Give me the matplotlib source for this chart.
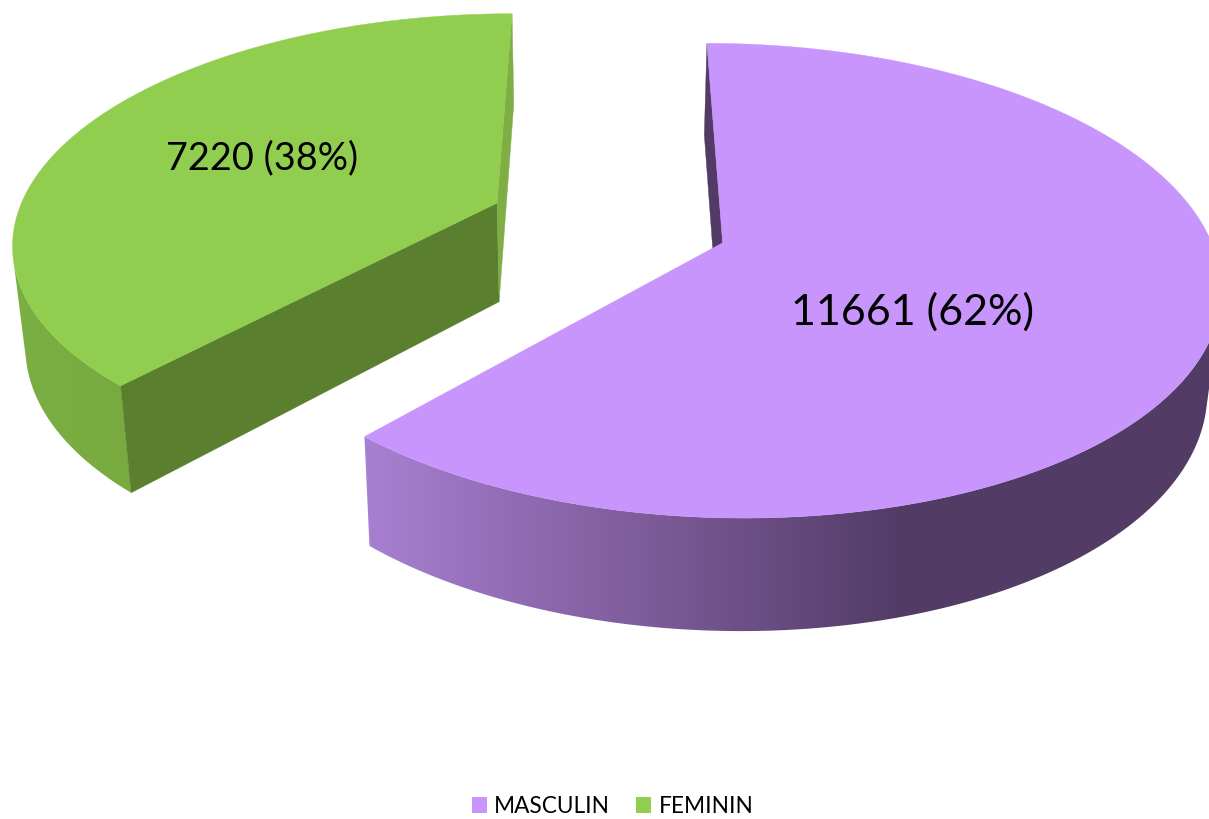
import numpy as np
import matplotlib
matplotlib.use("Agg")
import matplotlib.pyplot as plt
from matplotlib.colors import to_rgb
from matplotlib.patches import Patch, Polygon

# --- Data ---
categories = ["MASCULIN", "FEMININ"]
values = [11661, 7220]
percents = [62, 38]

# --- Perspective of the pie (pixel space) ---
VP_X, VP_Y = 608.5, -1204.0  # vanishing point of the plane
RX, RD = 0.338, 1.105e-4     # disc radius, across and in depth

plt.rcParams["font.family"] = ["Lato", "DejaVu Sans"]

fig = plt.figure(figsize=(12.09, 8.19), dpi=100)
ax = fig.add_axes([0, 0, 1, 1])


def project(x0, d0, theta):
    # theta in degrees, clockwise from the back of the pie
    t = np.radians(theta)
    s = 1 / (d0 + RD * np.cos(t))
    return np.column_stack([VP_X + (x0 + RX * np.sin(t)) * s, VP_Y + s])


def drop(pts):
    # same points on the lower face
    x = pts[:, 0] - 0.0222 * (pts[:, 0] - 590)
    y = pts[:, 1] + 90 + 0.0456 * (pts[:, 1] - 13)
    return np.column_stack([x, y])


def gradient(xs, stops, colors):
    rgb = np.array([to_rgb(c) for c in colors])
    return np.column_stack([np.interp(xs, stops, rgb[:, i]) for i in range(3)])


def draw_slice(start, end, x0, d0, top, rim_stops, rim_colors, walls):
    th = np.linspace(start, end, 600)
    rim = project(x0, d0, th)
    low = drop(rim)
    apex = np.array([[VP_X + x0 / d0, VP_Y + 1 / d0]])

    # outer wall: keep the part that faces the viewer, so the outline is a simple polygon
    step = np.gradient(rim, axis=0)
    side = low - rim
    front = step[:, 0] * side[:, 1] - step[:, 1] * side[:, 0] < 0
    outline = Polygon(np.vstack([rim[front], low[front][::-1]]), closed=True, fc="none", ec="none")
    ax.add_patch(outline)
    xs = np.linspace(0, 1209, 1209)
    img = gradient(xs, rim_stops, rim_colors)[None, :, :]
    im = ax.imshow(img, extent=(0, 1209, 819, 0), aspect="auto", interpolation="bilinear", zorder=1)
    im.set_clip_path(outline)

    # inner walls, only the ones that face the viewer
    for idx, color in walls:
        edge = rim[idx]
        pts = [edge, apex[0], drop(apex)[0], drop(edge[None])[0]]
        ax.add_patch(Polygon(pts, closed=True, fc=color, ec=color, lw=0.3, zorder=2))

    ax.add_patch(Polygon(np.vstack([apex, rim]), closed=True, fc=top, ec=top, lw=0.3, zorder=3))


total = sum(values)
split = 360 * values[0] / total

draw_slice(0, split, 0.0789, 6.912e-4, "#C795FB",
           [364, 640, 900], ["#A880D2", "#7F5C9B", "#523C66"],
           [(0, "#523C66")])
draw_slice(split, 360, -0.0792, 7.107e-4, "#91CE50",
           [10, 135], ["#7BAF42", "#78AA40"],
           [(0, "#5A7F2F"), (-1, "#7FAE45")])

ax.set_xlim(0, 1209)
ax.set_ylim(819, 0)
ax.axis("off")

ax.text(912.5, 312, f"{values[0]} ({percents[0]}%)", fontsize=31, ha="center", va="center",
        color="black", zorder=5)
ax.text(262, 158, f"{values[1]} ({percents[1]}%)", fontsize=27.3, ha="center", va="center",
        color="black", zorder=5)

handles = [Patch(fc="#C795FB", label=categories[0]), Patch(fc="#91CE50", label=categories[1])]
ax.legend(handles=handles, loc="center", bbox_to_anchor=(612.5, 806.5), bbox_transform=ax.transData,
          ncols=2, frameon=False, fontsize=16.3, handlelength=0.66, handleheight=0.66,
          handletextpad=0.33, columnspacing=1.15, borderpad=0)

fig.savefig("out.png", dpi=100, facecolor="white")
